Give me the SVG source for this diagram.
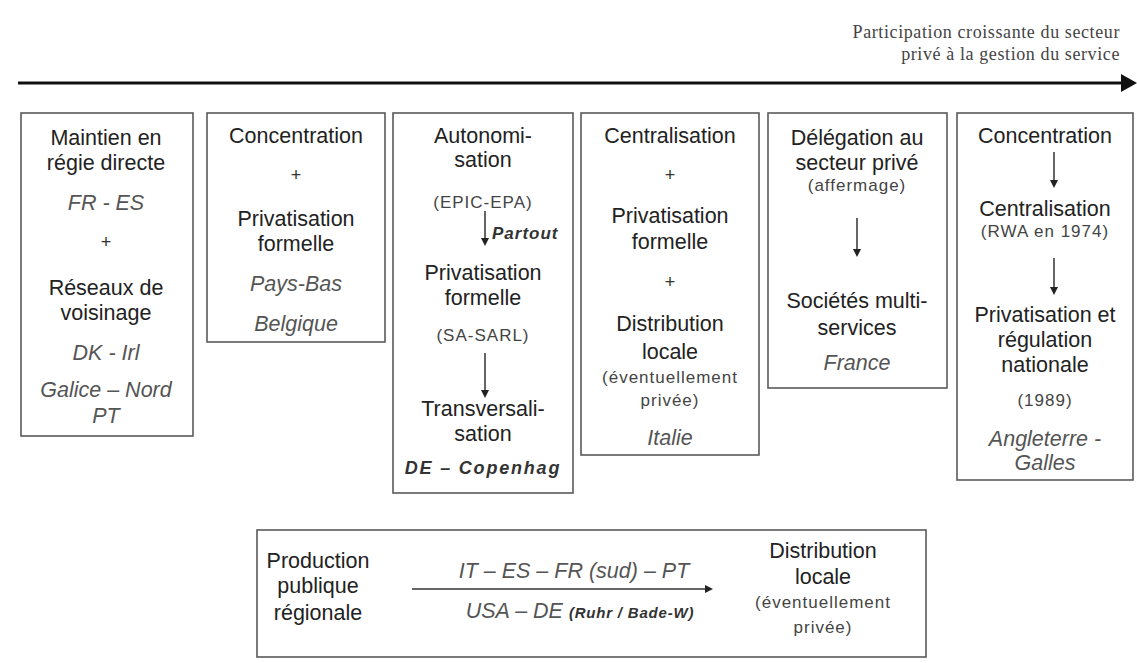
<svg xmlns="http://www.w3.org/2000/svg" width="1137" height="663" viewBox="0 0 1137 663">
<defs>
<style>
.box{fill:#fff;stroke:#5a5a5a;stroke-width:1.6}
text{font-family:"Liberation Sans",Arial,sans-serif;text-anchor:middle;fill:#222}
.t{font-size:21.5px}
.c{font-size:21.5px;font-style:italic;fill:#555}
.s{font-size:17px;letter-spacing:1px;fill:#444}
.p{font-size:18px;fill:#333}
.bi{font-style:italic;font-weight:bold;fill:#333}
.hdr{font-family:"Liberation Serif","Times New Roman",serif;font-size:18px;letter-spacing:0.6px;text-anchor:end;fill:#444}
.cl{stroke:#333;stroke-width:1.5}
.hd{fill:#222}
</style>
</defs>
<rect width="1137" height="663" fill="#fff"/>

<g id="header">
<text class="hdr" x="1120" y="38">Participation croissante du secteur</text>
<text class="hdr" x="1120" y="60">privé à la gestion du service</text>
</g>

<g id="box1">
<rect class="box" x="21" y="113" width="172" height="323"/>
<text class="t" x="106" y="145">Maintien en</text>
<text class="t" x="106" y="170">régie directe</text>
<text class="c" x="106" y="210">FR - ES</text>
<text class="p" x="106" y="248">+</text>
<text class="t" x="106" y="295">Réseaux de</text>
<text class="t" x="106" y="320">voisinage</text>
<text class="c" x="106" y="360">DK - Irl</text>
<text class="c" x="106" y="397">Galice – Nord</text>
<text class="c" x="106" y="423">PT</text>
</g>

<g id="box2">
<rect class="box" x="207" y="113" width="178" height="229"/>
<text class="t" x="296" y="143">Concentration</text>
<text class="p" x="296" y="181">+</text>
<text class="t" x="296" y="226">Privatisation</text>
<text class="t" x="296" y="251">formelle</text>
<text class="c" x="296" y="291">Pays-Bas</text>
<text class="c" x="296" y="331">Belgique</text>
</g>

<g id="box3">
<rect class="box" x="393" y="113" width="180" height="380"/>
<text class="t" x="483" y="143">Autonomi-</text>
<text class="t" x="483" y="167">sation</text>
<text class="s" x="483" y="208">(EPIC-EPA)</text>
<text class="bi" x="492" y="239" style="font-size:17px;letter-spacing:1px;text-anchor:start">Partout</text>
<text class="t" x="483" y="280">Privatisation</text>
<text class="t" x="483" y="305">formelle</text>
<text class="s" x="483" y="341">(SA-SARL)</text>
<text class="t" x="483" y="416">Transversali-</text>
<text class="t" x="483" y="441">sation</text>
<text class="bi" x="483" y="474" style="font-size:18px;letter-spacing:1.8px">DE – Copenhag</text>
</g>

<g id="box4">
<rect class="box" x="581" y="113" width="178" height="342"/>
<text class="t" x="670" y="143">Centralisation</text>
<text class="p" x="670" y="181">+</text>
<text class="t" x="670" y="223">Privatisation</text>
<text class="t" x="670" y="249">formelle</text>
<text class="p" x="670" y="288">+</text>
<text class="t" x="670" y="331">Distribution</text>
<text class="t" x="670" y="359">locale</text>
<text class="s" x="670" y="383">(éventuellement</text>
<text class="s" x="670" y="406">privée)</text>
<text class="c" x="670" y="445">Italie</text>
</g>

<g id="box5">
<rect class="box" x="768" y="113" width="179" height="275"/>
<text class="t" x="857" y="145">Délégation au</text>
<text class="t" x="857" y="170">secteur privé</text>
<text class="s" x="857" y="191">(affermage)</text>
<text class="t" x="857" y="308">Sociétés multi-</text>
<text class="t" x="857" y="335">services</text>
<text class="c" x="857" y="370">France</text>
</g>

<g id="box6">
<rect class="box" x="957" y="113" width="176" height="367"/>
<text class="t" x="1045" y="143">Concentration</text>
<text class="t" x="1045" y="216">Centralisation</text>
<text class="s" x="1045" y="237">(RWA en 1974)</text>
<text class="t" x="1045" y="322">Privatisation et</text>
<text class="t" x="1045" y="347">régulation</text>
<text class="t" x="1045" y="372">nationale</text>
<text class="s" x="1045" y="406">(1989)</text>
<text class="c" x="1045" y="446">Angleterre -</text>
<text class="c" x="1045" y="470">Galles</text>
</g>

<g id="box7">
<rect class="box" x="257" y="530" width="669" height="127"/>
<text class="t" x="318" y="568">Production</text>
<text class="t" x="318" y="593">publique</text>
<text class="t" x="318" y="620">régionale</text>
<text class="c" x="574" y="578">IT – ES – FR (sud) – PT</text>
<text class="c" x="580" y="618">USA – DE <tspan class="bi" style="font-size:15px;letter-spacing:0.8px">(Ruhr / Bade-W)</tspan></text>
<text class="t" x="823" y="558">Distribution</text>
<text class="t" x="823" y="584">locale</text>
<text class="s" x="823" y="608">(éventuellement</text>
<text class="s" x="823" y="633">privée)</text>
</g>

<g id="connectors">
<line x1="18" y1="83" x2="1124" y2="83" stroke="#111" stroke-width="3"/>
<polygon points="1121,74 1137,83 1121,92" fill="#111"/>
<line class="cl" x1="485" y1="211" x2="485" y2="240"/>
<polygon class="hd" points="481,238 489,238 485,246"/>
<line class="cl" x1="485" y1="353" x2="485" y2="392"/>
<polygon class="hd" points="481,390 489,390 485,398"/>
<line class="cl" x1="857" y1="218" x2="857" y2="251"/>
<polygon class="hd" points="853,249 861,249 857,257"/>
<line class="cl" x1="1054" y1="152" x2="1054" y2="182"/>
<polygon class="hd" points="1050,180 1058,180 1054,188"/>
<line class="cl" x1="1054" y1="258" x2="1054" y2="289"/>
<polygon class="hd" points="1050,287 1058,287 1054,295"/>
<line class="cl" x1="412" y1="589" x2="707" y2="589"/>
<polygon class="hd" points="705,585 705,593 713,589"/>
</g>
</svg>
